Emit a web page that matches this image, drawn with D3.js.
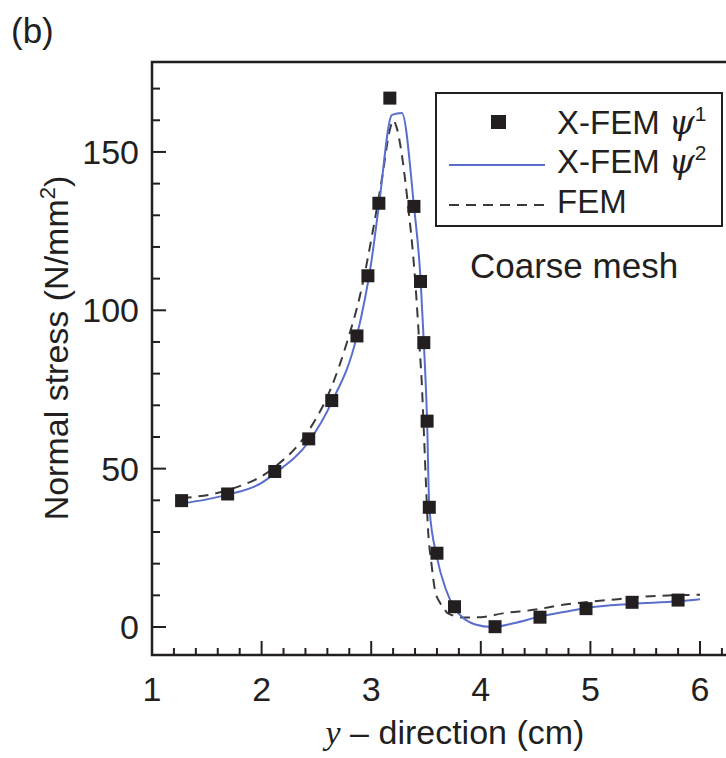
<!DOCTYPE html>
<html lang="en">
<head>
  <meta charset="UTF-8">
  <title>Normal stress - coarse mesh</title>
  <script src="https://d3js.org/d3.v7.min.js"></script>
  <style>
    body { margin: 0; background: #fff; }
    text {
      font-family: "Liberation Sans", Arial, sans-serif;
      fill: #231f20;
    }
    .frame { fill: none; stroke: #231f20; stroke-width: 2.5px; }
    .tick { stroke: #231f20; stroke-width: 2px; }
    .blue { fill: none; stroke: #5a6ecb; stroke-width: 2px; }
    .fem { fill: none; stroke: #3a3a3a; stroke-width: 2px; stroke-dasharray: 10,7; }
    .mark { fill: #231f20; }
  </style>
</head>
<body>
  <svg width="726" height="758"></svg>
  <script>
    // X-FEM psi^1 (squares)
    const markX = [1.27, 1.69, 2.12, 2.43, 2.64, 2.87, 2.97, 3.07, 3.17, 3.39, 3.45, 3.48,
                   3.51, 3.53, 3.60, 3.76, 4.13, 4.54, 4.96, 5.38, 5.80];
    const markY = [39.9, 42.0, 49.1, 59.4, 71.5, 91.9, 110.9, 133.8, 167.0, 132.8, 109.1, 89.8,
                   65.0, 37.8, 23.3, 6.4, 0.1, 3.1, 5.8, 7.8, 8.5];

    // X-FEM psi^2 (blue line)
    const xfemX = [1.27, 1.5, 1.69, 2.0, 2.12, 2.43, 2.64, 2.87, 3.0, 3.07, 3.19, 3.28, 3.39, 3.45,
                   3.48, 3.51, 3.53, 3.60, 3.68, 3.76, 3.85, 3.95, 4.1, 4.3, 4.54, 4.8, 4.96, 5.38, 5.8, 6.0];
    const xfemY = [39.0, 40.3, 41.8, 45.5, 48.5, 58.5, 71.0, 92.0, 115.0, 133.0, 161.7, 162.3, 133.0, 110.0,
                   90.0, 65.0, 38.0, 22.0, 12.0, 6.0, 2.5, 0.8, 0.0, 1.2, 3.3, 5.0, 6.0, 7.3, 8.1, 8.8];

    // FEM (dashed line)
    const femX = [1.27, 1.69, 2.12, 2.43, 2.64, 2.78, 2.90, 3.02, 3.10, 3.17, 3.20, 3.23, 3.28, 3.33,
                  3.40, 3.44, 3.46, 3.48, 3.50, 3.52, 3.55, 3.58, 3.63, 3.66, 3.70, 3.85, 4.0, 4.2,
                  4.5, 4.75, 5.0, 5.25, 5.5, 5.75, 6.0];
    const femY = [40.7, 43.2, 50.5, 62.0, 76.0, 90.0, 105.0, 126.0, 142.0, 157.0, 160.0, 158.0, 149.0, 135.0,
                  110.0, 89.0, 78.0, 62.0, 45.0, 30.0, 20.0, 12.0, 7.5, 6.0, 4.3, 3.0, 3.1, 4.3,
                  5.5, 7.0, 8.0, 8.8, 9.6, 10.0, 10.2];

    const xTicks = [1, 2, 3, 4, 5, 6];
    const yTicks = [0, 50, 100, 150];
    const legendLabels = ["X-FEM ", "X-FEM ", "FEM"];

    const svg = d3.select("svg");
    const pLeft = 152, pRight = 727.4, pTop = 62, pBottom = 655;

    const x = d3.scaleLinear().domain([1, 6.25]).range([pLeft, pRight]);
    const y = d3.scaleLinear().domain([-8.84, 178.4]).range([pBottom, pTop]);

    const g = svg.append("g");

    // clip for the plot area
    svg.append("defs").append("clipPath").attr("id", "clip")
      .append("rect").attr("x", pLeft).attr("y", pTop)
      .attr("width", pRight - pLeft).attr("height", pBottom - pTop);

    // minor + major ticks, inward
    const xMinor = d3.range(1, 6.3, 0.2).filter(v => Math.abs(v - Math.round(v)) > 0.01);
    g.selectAll(".xminor").data(xMinor).join("line")
      .attr("class", "tick")
      .attr("x1", d => x(d)).attr("x2", d => x(d))
      .attr("y1", pBottom).attr("y2", pBottom - 7);
    g.selectAll(".xmajor").data(xTicks).join("line")
      .attr("class", "tick")
      .attr("x1", d => x(d)).attr("x2", d => x(d))
      .attr("y1", pBottom).attr("y2", pBottom - 14);

    const yMinor = d3.range(0, 180, 10).filter(v => v % 50 !== 0);
    g.selectAll(".yminor").data(yMinor).join("line")
      .attr("class", "tick")
      .attr("x1", pLeft).attr("x2", pLeft + 8)
      .attr("y1", d => y(d)).attr("y2", d => y(d));
    g.selectAll(".ymajor").data(yTicks).join("line")
      .attr("class", "tick")
      .attr("x1", pLeft).attr("x2", pLeft + 14)
      .attr("y1", d => y(d)).attr("y2", d => y(d));

    // tick labels
    g.selectAll(".xlab").data(xTicks).join("text")
      .attr("x", d => x(d)).attr("y", pBottom + 46)
      .attr("text-anchor", "middle").attr("font-size", 34)
      .text(d => d);
    g.selectAll(".ylab").data(yTicks).join("text")
      .attr("x", pLeft - 13).attr("y", d => y(d) + 12)
      .attr("text-anchor", "end").attr("font-size", 34)
      .text(d => d);

    // axis titles
    const xt = g.append("text")
      .attr("x", 455).attr("y", 744)
      .attr("text-anchor", "middle").attr("font-size", 34);
    xt.append("tspan").attr("font-family", "'Liberation Serif', serif")
      .attr("font-style", "italic").text("y");
    xt.append("tspan").text(" \u2013 direction (cm)");

    const yt = g.append("text")
      .attr("transform", "translate(68,348) rotate(-90)")
      .attr("text-anchor", "middle").attr("font-size", 34);
    yt.append("tspan").text("Normal stress (N/mm");
    yt.append("tspan").attr("dy", -13).attr("font-size", 22).text("2");
    yt.append("tspan").attr("dy", 13).text(")");

    // curves
    const plot = g.append("g").attr("clip-path", "url(#clip)");
    const line = d3.line().x(d => x(d[0])).y(d => y(d[1])).curve(d3.curveMonotoneX);

    plot.append("path").attr("class", "fem")
      .attr("d", line(femX.map((v, i) => [v, femY[i]])));
    plot.append("path").attr("class", "blue")
      .attr("d", line(xfemX.map((v, i) => [v, xfemY[i]])));

    const sq = 13;
    plot.selectAll(".mark").data(markX.map((v, i) => [v, markY[i]])).join("rect")
      .attr("class", "mark")
      .attr("x", d => x(d[0]) - sq / 2).attr("y", d => y(d[1]) - sq / 2)
      .attr("width", sq).attr("height", sq);

    // frame
    g.append("rect").attr("class", "frame")
      .attr("x", pLeft).attr("y", pTop)
      .attr("width", pRight - pLeft).attr("height", pBottom - pTop);

    // legend
    const lg = g.append("g");
    lg.append("rect").attr("x", 436).attr("y", 93).attr("width", 286).attr("height", 133)
      .attr("fill", "#fff").attr("stroke", "#231f20").attr("stroke-width", 2);
    lg.append("rect").attr("class", "mark").attr("x", 491).attr("y", 115).attr("width", 15).attr("height", 14);
    lg.append("line").attr("class", "blue").attr("x1", 449).attr("x2", 545).attr("y1", 165).attr("y2", 165);
    lg.append("line").attr("class", "fem").attr("x1", 449).attr("x2", 545).attr("y1", 205).attr("y2", 205)
      .attr("stroke-dasharray", "14,11");

    const ly = [134, 173, 213];
    legendLabels.forEach((lab, i) => {
      const t = lg.append("text").attr("x", 557).attr("y", ly[i]).attr("font-size", 33).text(lab);
      if (i < 2) {
        t.append("tspan").attr("font-family", "'DejaVu Serif', serif").attr("font-style", "italic").text("\u03c8");
        t.append("tspan").attr("dy", -13).attr("font-size", 21).text(i + 1);
      }
    });

    g.append("text").attr("x", 470).attr("y", 278).attr("font-size", 35).text("Coarse mesh");

    // panel label
    g.append("text").attr("x", 11).attr("y", 43).attr("font-size", 35).text("(b)");
  </script>
</body>
</html>
